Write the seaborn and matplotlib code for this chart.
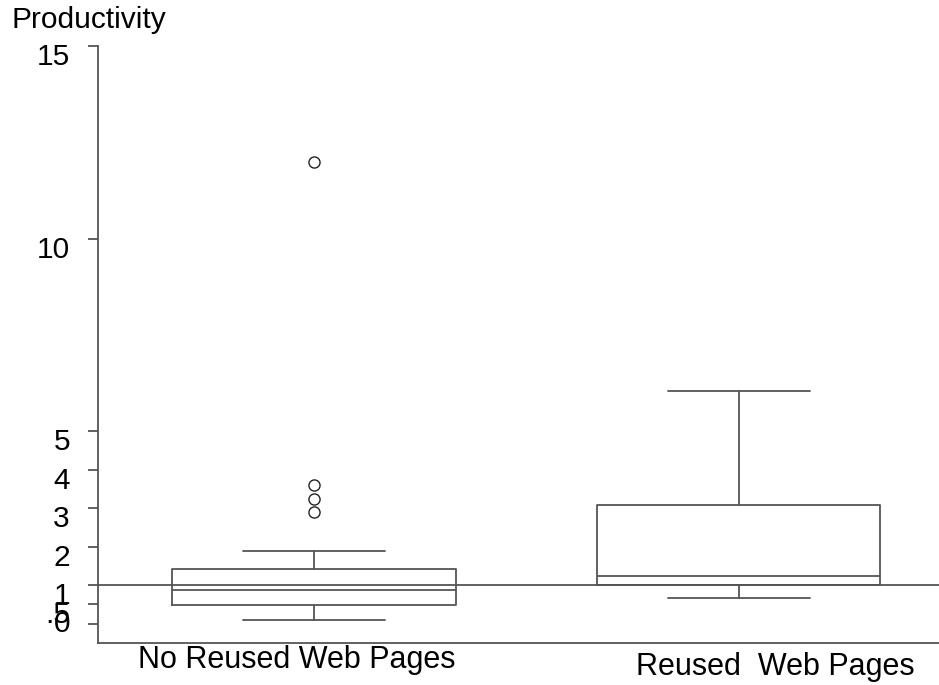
import matplotlib
matplotlib.use("Agg")
import matplotlib.pyplot as plt
import matplotlib.transforms as mtransforms
import seaborn as sns

# values
groups = ["No Reused Web Pages", "Reused  Web Pages"]
q1 = [0.475, 1.0]
medians = [0.875, 1.24]
q3 = [1.43, 3.07]
whisker_lo = [0.11, 0.67]
whisker_hi = [1.90, 6.03]
outliers = [[12.0, 3.61, 3.25, 2.90], []]
ytick_values = [0, 0.5, 1, 2, 3, 4, 5, 10, 15]
ytick_labels = ["0", ".5", "1", "2", "3", "4", "5", "10", "15"]
reference_level = 1

sns.set_style("ticks")
plt.rcParams["font.family"] = ["Liberation Sans", "DejaVu Sans"]

line_color = "#555555"
lw = 1.3

fig = plt.figure(figsize=(9.39, 6.85), dpi=100)
ax = fig.add_axes([98 / 939, 1 - 643 / 685, 1 - 98 / 939, (643 - 46) / 685])

stats = []
for i, name in enumerate(groups):
    stats.append({
        "label": name,
        "q1": q1[i],
        "med": medians[i],
        "q3": q3[i],
        "whislo": whisker_lo[i],
        "whishi": whisker_hi[i],
        "fliers": outliers[i],
    })

line_props = dict(color=line_color, linewidth=lw)
ax.bxp(
    stats,
    positions=[0, 1],
    widths=0.668,
    boxprops=line_props,
    medianprops=line_props,
    whiskerprops=line_props,
    capprops=line_props,
    flierprops=dict(marker="o", markersize=8, markerfacecolor="none",
                    markeredgecolor="#222222", markeredgewidth=1.0),
    manage_ticks=False,
)

# reference line at productivity = 1
ax.axhline(reference_level, color=line_color, linewidth=lw, zorder=1)

ax.set_xlim(-0.509, 1.472)
ax.set_ylim(-0.5, 15)
ax.set_xticks([])
ax.set_yticks(ytick_values)
ax.set_yticklabels(ytick_labels)
ax.tick_params(axis="y", length=7.2, width=lw, color=line_color, pad=13,
               labelsize=21.5, labelcolor="black")
nudge = mtransforms.ScaledTranslation(0, 3 / 100, fig.dpi_scale_trans)
for lab in ax.get_yticklabels():
    if lab.get_text() == "0":
        lab.set_va("center")
    else:
        lab.set_va("top")
        lab.set_transform(lab.get_transform() + nudge)

sns.despine(ax=ax)
for side in ["left", "bottom"]:
    ax.spines[side].set_color(line_color)
    ax.spines[side].set_linewidth(lw)

# category labels under the boxes (offset as in the reference)
ax.text(-0.042, -0.042, groups[0], transform=ax.get_xaxis_transform(),
        ha="center", va="baseline", fontsize=22, color="black")
ax.text(1.086, -0.054, groups[1], transform=ax.get_xaxis_transform(),
        ha="center", va="baseline", fontsize=22, color="black")

fig.text(12 / 939, 1 - 28 / 685, "Productivity", ha="left", va="baseline",
         fontsize=21.5, color="black")

fig.savefig("out.png", dpi=100)
